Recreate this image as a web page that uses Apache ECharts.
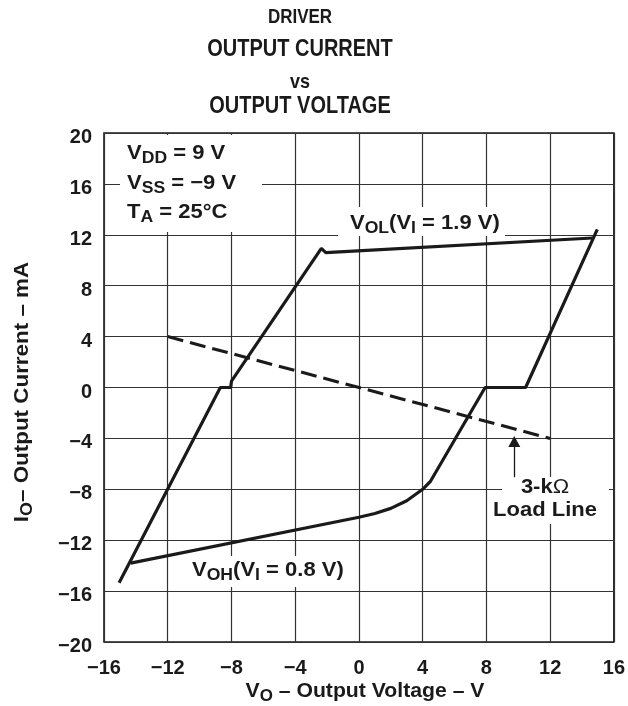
<!DOCTYPE html>
<html>
<head>
<meta charset="utf-8">
<script src="https://cdn.jsdelivr.net/npm/echarts@6/dist/echarts.min.js"></script>
<style>
  html, body { margin: 0; padding: 0; background: #fff; }
  #chart { width: 628px; height: 706px; }
</style>
</head>
<body>
<div id="chart"></div>
<script>
// V_OL (V_I = 1.9 V) branch
var volV = [-15.05, -8.7, -8.05, -8.0, -2.36, -2.08, 14.65];
var volI = [-15.35, 0, 0, 0.5, 10.94, 10.6, 11.75];
// V_OH (V_I = 0.8 V) branch
var vohV = [14.96, 10.46, 7.92, 4.5, 4.0, 3.0, 2.0, 1.0, 0.0, -14.33];
var vohI = [12.42, 0, 0, -7.35, -8.0, -8.9, -9.5, -9.9, -10.2, -13.8];
// 3-kOhm load line
var loadV = [-12, 12];
var loadI = [4, -4];
// arrow pointing at the load line
var arrowV = 9.75;
var arrowI = [-7.05, -4.25];
var xTicks = [-16, -12, -8, -4, 0, 4, 8, 12, 16];
var yTicks = [-20, -16, -12, -8, -4, 0, 4, 8, 12, 16, 20];

var FONT = '"Liberation Sans", Arial, Helvetica, sans-serif';
var INK = '#1a1a1a';

function pairs(xs, ys) {
    return xs.map(function(x, i) { return [x, ys[i]]; });
}
function minus(v) {
    return String(v).replace('-', '\u2212');
}

var rich = {
    m: { fontFamily: FONT, fontWeight: 'bold', fontSize: 20, fill: INK, lineHeight: 28 },
    s: { fontFamily: FONT, fontWeight: 'bold', fontSize: 16, fill: INK, lineHeight: 16, padding: [11, 0, 0, 0] },
    o: { fontFamily: FONT, fontWeight: 'normal', fontSize: 20, fill: INK, lineHeight: 28 }
};

function note(x, y, text, align, sx) {
    return {
        type: 'text', x: x, y: y, z: 3, scaleX: sx || 1.1,
        style: {
            text: text, rich: rich,
            font: 'bold 20px ' + FONT,
            align: align || 'left', textAlign: align || 'left',
            verticalAlign: 'middle', textVerticalAlign: 'middle'
        }
    };
}
function mask(x, y, w, h) {
    return { type: 'rect', z: 1, shape: { x: x, y: y, width: w, height: h }, style: { fill: '#fff' } };
}
function title(y, text, size) {
    return {
        type: 'text', x: 300, y: y, z: 3, scaleY: 1.15,
        style: {
            text: text, fill: INK, font: 'bold ' + size + 'px ' + FONT,
            align: 'center', textAlign: 'center', verticalAlign: 'middle', textVerticalAlign: 'middle'
        }
    };
}

var chart = echarts.init(document.getElementById('chart'));

var option = {
    animation: false,
    grid: {
        left: 104, top: 133, width: 511, height: 509,
        show: true, borderColor: INK, borderWidth: 1.6, backgroundColor: 'transparent'
    },
    xAxis: {
        type: 'value', min: xTicks[0], max: xTicks[xTicks.length - 1], interval: 4,
        axisLine: { show: false }, axisTick: { show: false },
        splitLine: { show: true, lineStyle: { color: '#333', width: 1.2 } },
        axisLabel: {
            margin: 16, color: INK, fontSize: 20, fontWeight: 'bold', fontFamily: FONT,
            formatter: function(v) { return minus(v); }
        }
    },
    yAxis: {
        type: 'value', min: yTicks[0], max: yTicks[yTicks.length - 1], interval: 4,
        axisLine: { show: false }, axisTick: { show: false },
        splitLine: { show: true, lineStyle: { color: '#333', width: 1.2 } },
        axisLabel: {
            margin: 12,
            formatter: function(v) { return '{t|' + minus(v) + '}'; },
            rich: {
                t: { color: INK, fontSize: 20, fontWeight: 'bold', fontFamily: FONT, lineHeight: 20, padding: [9, 0, 0, 0] }
            }
        }
    },
    series: [{
        name: 'VOL', type: 'line', data: pairs(volV, volI),
        symbol: 'none', lineStyle: { color: INK, width: 3.2 }, z: 2
    }, {
        name: 'VOH', type: 'line', data: pairs(vohV, vohI),
        symbol: 'none', lineStyle: { color: INK, width: 3.2 }, z: 2
    }, {
        name: 'Load Line', type: 'line', data: pairs(loadV, loadI),
        symbol: 'none', lineStyle: { color: INK, width: 3.1, type: [16, 7] }, z: 2,
        markLine: {
            silent: true, symbol: ['none', 'triangle'], symbolSize: [12, 11],
            label: { show: false },
            lineStyle: { color: INK, width: 1.3, type: 'solid' },
            data: [[{ coord: [arrowV, arrowI[0]] }, { coord: [arrowV, arrowI[1]] }]]
        }
    }],
    graphic: [
        title(18, 'DRIVER', 17),
        title(50, 'OUTPUT CURRENT', 20),
        title(82, 'vs', 18),
        title(107, 'OUTPUT VOLTAGE', 20),

        mask(120, 135, 142, 97),
        mask(338, 207, 167, 29),
        mask(186, 556, 166, 31),
        mask(502, 477, 107, 47),

        note(127, 153, '{m|V}{s|DD}{m| = 9 V}'),
        note(127, 183, '{m|V}{s|SS}{m| = \u22129 V}'),
        note(127, 212, '{m|T}{s|A}{m| = 25\u00b0C}'),
        note(350, 223, '{m|V}{s|OL}{m|(V}{s|I}{m| = 1.9 V)}'),
        note(192, 570, '{m|V}{s|OH}{m|(V}{s|I}{m| = 0.8 V)}'),
        note(545, 487, '{m|3-k}{o|\u03a9}', 'center'),
        note(545, 510, '{m|Load Line}', 'center'),

        note(365, 691, '{m|V}{s|O}{m| \u2013 Output Voltage \u2013 V}', 'center', 1.06),
        {
            type: 'text', x: 22, y: 392, z: 3, rotation: Math.PI / 2, scaleX: 1.12,
            style: {
                text: '{m|I}{s|O}{m|\u2013 Output Current \u2013 mA}', rich: rich,
                font: 'bold 20px ' + FONT,
                align: 'center', textAlign: 'center', verticalAlign: 'middle', textVerticalAlign: 'middle'
            }
        }
    ]
};

chart.setOption(option);
</script>
</body>
</html>
